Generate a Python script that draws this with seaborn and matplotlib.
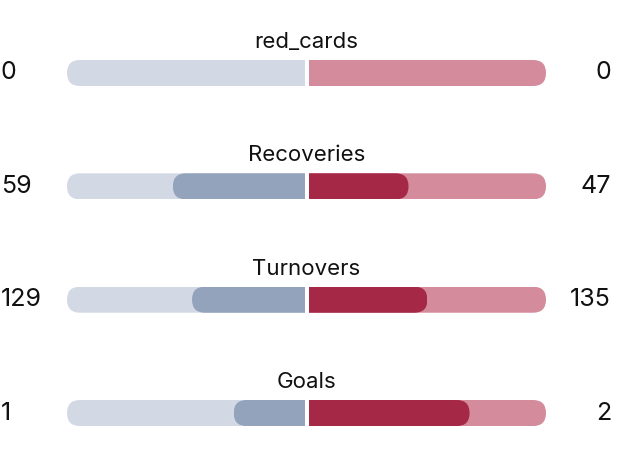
import numpy as np
import pandas as pd
import matplotlib
matplotlib.use("Agg")
import matplotlib.pyplot as plt
import seaborn as sns
from matplotlib.patches import FancyBboxPatch

# === data ===
stats = ["red_cards", "Recoveries", "Turnovers", "Goals"]
home_vals = [0, 59, 129, 1]
away_vals = [0, 47, 135, 2]
# filled share of each half-track
home_frac = [0, 0.558, 0.478, 0.304]
away_frac = [0, 0.426, 0.505, 0.681]

# colours
home_track = "#d3d9e4"
home_fill = "#93a3bc"
away_track = "#d48b9c"
away_fill = "#a52846"

df = pd.DataFrame({
    "stat": stats,
    "home_track": -1.0,
    "away_track": 1.0,
    "home_fill": -np.array(home_frac),
    "away_fill": np.array(away_frac),
})

sns.set_theme(style="white")
plt.rcParams["font.family"] = ["Inter", "DejaVu Sans"]

W, H = 640, 451
fig = plt.figure(figsize=(W / 100, H / 100), dpi=100)
left_px, right_px = 67, 546
ax = fig.add_axes([left_px / W, 0, (right_px - left_px) / W, 1])

bar_h = 0.23
cols = [("home_track", home_track), ("away_track", away_track),
        ("home_fill", home_fill), ("away_fill", away_fill)]
for col, c in cols:
    sns.barplot(data=df, x=col, y="stat", orient="h", color=c, width=bar_h,
                saturation=1, ax=ax, linewidth=0)

ylim = (3.335, -0.644)
ax.set_xlim(-1, 1)
ax.set_ylim(*ylim)

# pixel scales for rounding
px_x = (right_px - left_px) / 2.0      # px per x unit
px_y = H / (ylim[0] - ylim[1])         # px per y unit
aspect = px_x / px_y

# clip each bar with a pill so the outer end is rounded
for p in ax.patches:
    w = abs(p.get_width())
    if w == 0:
        p.set_visible(False)
        continue
    y0 = p.get_y()
    h = p.get_height()
    r = (h * px_y / 2) / px_x
    pill = FancyBboxPatch((-w, y0), 2 * w, h,
                          boxstyle=f"round,pad=0,rounding_size={r}",
                          mutation_aspect=aspect,
                          transform=ax.transData, facecolor="none", edgecolor="none")
    p.set_clip_path(pill)

# white gap in the middle
ax.axvline(0, color="white", lw=2.9, zorder=5)

ax.set_xlabel("")
ax.set_ylabel("")
ax.set_xticks([])
ax.set_yticks([])
sns.despine(ax=ax, left=True, bottom=True)

x_left = -1 - (left_px - 1) / px_x
x_right = 1 + (611 - right_px) / px_x
for i, s in enumerate(stats):
    ax.text(0, i - 31 / px_y, s, ha="center", va="center", fontsize=16,
            color="#111111", zorder=10)
    ax.text(x_left, i, str(home_vals[i]), ha="left", va="center", fontsize=18,
            color="#111111", clip_on=False, zorder=10)
    ax.text(x_right, i, str(away_vals[i]), ha="right", va="center", fontsize=18,
            color="#111111", clip_on=False, zorder=10)

fig.savefig("out.png", dpi=100)
